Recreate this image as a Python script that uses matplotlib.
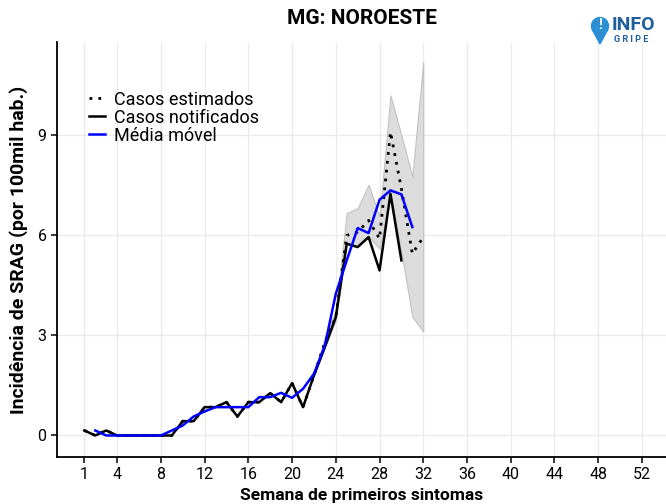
import numpy as np
import matplotlib
matplotlib.use('Agg')
import matplotlib.pyplot as plt
from matplotlib.patches import Circle, Polygon

plt.rcParams['font.family'] = ['Roboto', 'DejaVu Sans']

# dados
semanas_notif = list(range(1, 31))
notificados = [0.15, 0.0, 0.15, 0.0, 0.0, 0.0, 0.0, 0.0, 0.0, 0.43,
               0.43, 0.85, 0.85, 1.0, 0.57, 1.0, 1.0, 1.27, 1.0, 1.57,
               0.85, 1.8, 2.65, 3.55, 5.75, 5.65, 5.95, 4.95, 7.25, 5.25]

semanas_est = list(range(1, 33))
estimados = [0.15, 0.0, 0.15, 0.0, 0.0, 0.0, 0.0, 0.0, 0.0, 0.43,
             0.43, 0.85, 0.85, 1.0, 0.57, 1.0, 1.0, 1.27, 1.0, 1.57,
             0.85, 1.8, 2.8, 3.55, 6.0, 6.1, 6.45, 5.9, 9.1, 7.4,
             5.45, 5.95]

semanas_ic = list(range(22, 33))
ic_inf = [1.8, 2.65, 3.45, 5.78, 5.66, 5.97, 5.6, 7.25, 5.5, 3.56, 3.11]
ic_sup = [1.8, 2.95, 3.75, 6.67, 6.82, 7.52, 6.57, 10.2, 9.0, 7.77, 11.2]

semanas_mm = list(range(2, 32))
media_movel = [0.15, 0.0, 0.0, 0.0, 0.0, 0.0, 0.0, 0.15, 0.3, 0.57,
               0.72, 0.85, 0.85, 0.85, 0.85, 1.15, 1.15, 1.28, 1.13, 1.4,
               1.85, 2.7, 4.25, 5.25, 6.22, 6.07, 7.07, 7.35, 7.23, 6.25]

xticks = [1, 4, 8, 12, 16, 20, 24, 28, 32, 36, 40, 44, 48, 52]
yticks = [0, 3, 6, 9]

fig = plt.figure(figsize=(6.66, 5.04), dpi=100)
ax = fig.add_axes([57/666, 47/504, 609/666, 415/504])

ax.fill_between(semanas_ic, ic_inf, ic_sup, color='#d9d9d9', alpha=0.9,
                edgecolor='#bdbdbd', linewidth=0.8, zorder=2)
ax.plot(semanas_est, estimados, color='black', linestyle=(0, (1, 2.2)),
        linewidth=2.0, label='Casos estimados', zorder=3)
ax.plot(semanas_notif, notificados, color='black', linewidth=1.8,
        label='Casos notificados', zorder=4)
ax.plot(semanas_mm, media_movel, color='#0000ff', linewidth=1.8,
        label='Média móvel', zorder=5)

ax.set_xlim(-1.5, 54.2)
ax.set_ylim(-0.645, 11.8)
ax.set_xticks(xticks)
ax.set_yticks(yticks)
ax.grid(True, color='#ebebeb', linewidth=1.0, zorder=0)
ax.set_axisbelow(True)
for s in ['top', 'right']:
    ax.spines[s].set_visible(False)
for s in ['left', 'bottom']:
    ax.spines[s].set_linewidth(1.3)
    ax.spines[s].set_color('black')
ax.tick_params(axis='both', labelsize=11.5, length=4, width=1.1, colors='black')

ax.set_xlabel('Semana de primeiros sintomas', fontsize=12.5, fontweight='bold', labelpad=4)
ax.set_ylabel('Incidência de SRAG (por 100mil hab.)', fontsize=14, fontweight='bold', labelpad=7)
ax.set_title('MG: NOROESTE', fontsize=15, fontweight='bold', pad=13)

leg = ax.legend(loc='upper left', bbox_to_anchor=(0.04, 0.9), frameon=False,
                fontsize=13, handlelength=0.9, handletextpad=0.5,
                labelspacing=0.0, borderaxespad=0)

# logo InfoGripe
pin_color = '#2b8fd6'
fig.patches.append(Circle((600, 478), 8.5, transform=None, color=pin_color))
fig.patches.append(Polygon([(592, 475), (608, 475), (600, 460)], closed=True,
                           transform=None, color=pin_color))
fig.text(600/666, 479/504, '!', color='white', fontsize=10, fontweight='bold',
         ha='center', va='center')
fig.text(612/666, 479/504, 'INFO', color='#1f5f9f', fontsize=14, fontweight='bold',
         ha='left', va='center')
fig.text(614/666, 464/504, 'G R I P E', color='#1f5f9f', fontsize=6.5, fontweight='bold',
         ha='left', va='center')

plt.savefig('out.png', dpi=100)
